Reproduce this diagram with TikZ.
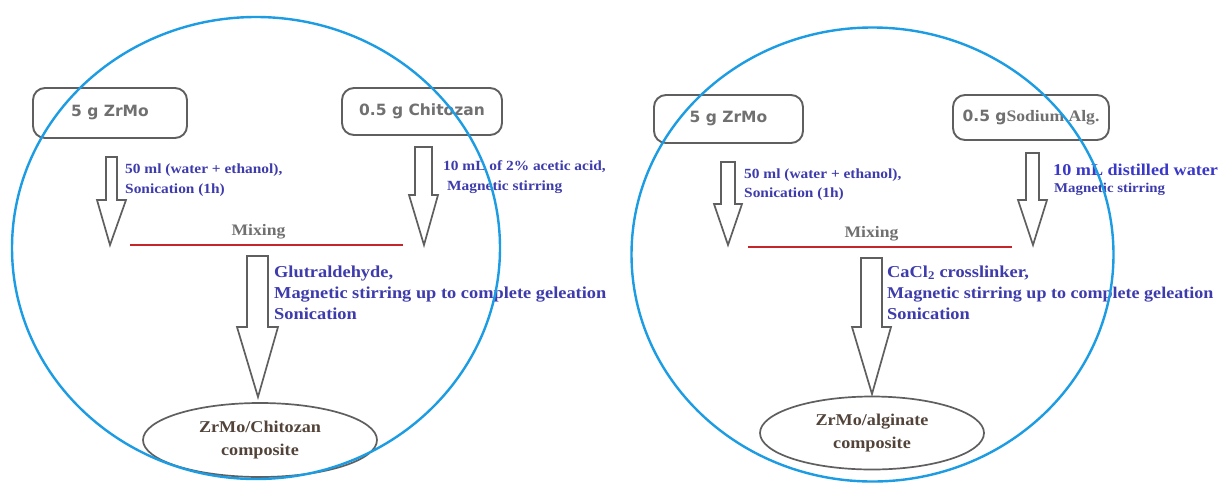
\documentclass[tikz,border=0pt]{standalone}
\usepackage{fontspec}
\setmainfont{Liberation Serif}[FakeStretch=1.1]
\newfontfamily\tnr{Liberation Serif}[FakeStretch=1.1]
\newfontfamily\boxsans{DejaVu Sans}
\usetikzlibrary{calc,shapes.geometric}
\definecolor{ringblue}{RGB}{28,156,226}
\definecolor{boxgray}{RGB}{95,95,95}
\definecolor{boxtxt}{RGB}{112,112,112}
\definecolor{bluetxt}{RGB}{62,60,172}
\definecolor{bluetxtb}{RGB}{58,56,200}
\definecolor{mixred}{RGB}{196,38,44}
\definecolor{elltxt}{RGB}{82,68,58}
\tikzset{
  ring/.style={draw=ringblue, line width=2.4pt},
  srcbox/.style={draw=boxgray, line width=1.9pt, rounded corners=12pt, inner sep=0pt,
     text=boxtxt, font=\boxsans\bfseries\fontsize{15.5}{18}\selectfont},
  blockarr/.style={draw=boxgray, line width=1.7pt, fill=white, line join=miter},
  mixline/.style={draw=mixred, line width=2.6pt},
  mixtxt/.style={text=boxtxt, font=\tnr\bfseries\fontsize{16}{18}\selectfont, anchor=base, inner sep=0pt},
  smalltxt/.style={text=bluetxt, font=\tnr\bfseries\fontsize{14}{18}\selectfont, anchor=base west, inner sep=0pt},
  bigtxt/.style={text=bluetxt, font=\tnr\bfseries\fontsize{16.7}{20}\selectfont, anchor=base west, inner sep=0pt},
  product/.style={ellipse, draw=boxgray, line width=1.7pt, inner sep=0pt, align=center,
     text=elltxt, font=\tnr\bfseries\fontsize{16.5}{23}\selectfont}
}
\newcommand{\blkarrow}[5]{%
  \draw[blockarr] let \p1=(#1), \p2=(#2) in
    (\x1-#3pt,\y1) -- (\x1+#3pt,\y1) -- (\x1+#3pt,\y2+#5pt) -- (\x1+#4pt,\y2+#5pt)
    -- (\x2,\y2) -- (\x1-#4pt,\y2+#5pt) -- (\x1-#3pt,\y2+#5pt) -- cycle;}
\begin{document}
\begin{tikzpicture}[x=1pt,y=-1pt]
\useasboundingbox[fill=white] (0,0) rectangle (1221,483);

% ---------- left panel ----------
\node[srcbox, minimum width=154pt, minimum height=50pt] (zr1) at (110,113) {5 g ZrMo};
\node[srcbox, minimum width=160pt, minimum height=47pt] (chi) at (422,111.5) {0.5 g Chitozan};

\coordinate (a1s) at (111.5,157); \coordinate (a1t) at (110,245);
\blkarrow{a1s}{a1t}{5.5}{14.5}{45}
\coordinate (a2s) at (423.5,147); \coordinate (a2t) at (424,245);
\blkarrow{a2s}{a2t}{8.5}{14.5}{50}

\coordinate (m1l) at (130,245); \coordinate (m1r) at (403,245);
\draw[mixline] (m1l) -- (m1r);
\node[mixtxt] (mix1) at (258.5,235) {Mixing};

\coordinate (a3s) at (257.5,256); \coordinate (a3t) at (258,397);
\blkarrow{a3s}{a3t}{10.5}{20.5}{70}

\node[smalltxt] (t1a) at (125,173) {50 ml (water + ethanol),};
\node[smalltxt] (t1b) at (125,193) {Sonication (1h)};
\node[smalltxt] (t2a) at (443,170) {10 mL of 2\% acetic acid,};
\node[smalltxt] (t2b) at (447,190) {Magnetic stirring};
\node[bigtxt] (t3a) at (274,277) {Glutraldehyde,};
\node[bigtxt] (t3b) at (274,298) {Magnetic stirring up to complete geleation};
\node[bigtxt] (t3c) at (274,319) {Sonication};

\node[product, minimum width=234pt, minimum height=74pt] (p1) at (260,440) {ZrMo/Chitozan\\composite};

\draw[ring] (256,248) ellipse [x radius=244pt, y radius=231pt];

% ---------- right panel ----------
\node[srcbox, minimum width=149pt, minimum height=48pt] (zr2) at (728.5,119) {5 g ZrMo};
\node[srcbox, minimum width=156pt, minimum height=45pt] (alg) at (1031,117.5)
   {0.5 g{\tnr\bfseries\fontsize{16}{18}\selectfont Sodium Alg.}};

\coordinate (a4s) at (728,162); \coordinate (a4t) at (728,245);
\blkarrow{a4s}{a4t}{7}{14}{41}
\coordinate (a5s) at (1032.5,153); \coordinate (a5t) at (1033,245);
\blkarrow{a5s}{a5t}{6.5}{14.5}{45}

\coordinate (m2l) at (748,247); \coordinate (m2r) at (1012,247);
\draw[mixline] (m2l) -- (m2r);
\node[mixtxt] (mix2) at (871.5,237) {Mixing};

\coordinate (a6s) at (871.5,258); \coordinate (a6t) at (872,394);
\blkarrow{a6s}{a6t}{10.5}{19.5}{67}

\node[smalltxt] (t4a) at (744,178) {50 ml (water + ethanol),};
\node[smalltxt] (t4b) at (744,197) {Sonication (1h)};
\node[bigtxt, text=bluetxtb, font=\tnr\bfseries\fontsize{16.5}{20}\selectfont] (t5a) at (1053,175) {10 mL distilled water};
\node[smalltxt, font=\tnr\bfseries\fontsize{13.5}{18}\selectfont] (t5b) at (1054,192) {Magnetic stirring};
\node[bigtxt] (t6a) at (887,277) {CaCl\textsubscript{2} crosslinker,};
\node[bigtxt, font=\tnr\bfseries\fontsize{16.4}{20}\selectfont] (t6b) at (887,298) {Magnetic stirring up to complete geleation};
\node[bigtxt] (t6c) at (887,319) {Sonication};

\node[product, minimum width=224pt, minimum height=73pt] (p2) at (872,433) {ZrMo/alginate\\composite};

\draw[ring] (872.5,254.5) ellipse [x radius=241pt, y radius=227pt];
\end{tikzpicture}
\end{document}
